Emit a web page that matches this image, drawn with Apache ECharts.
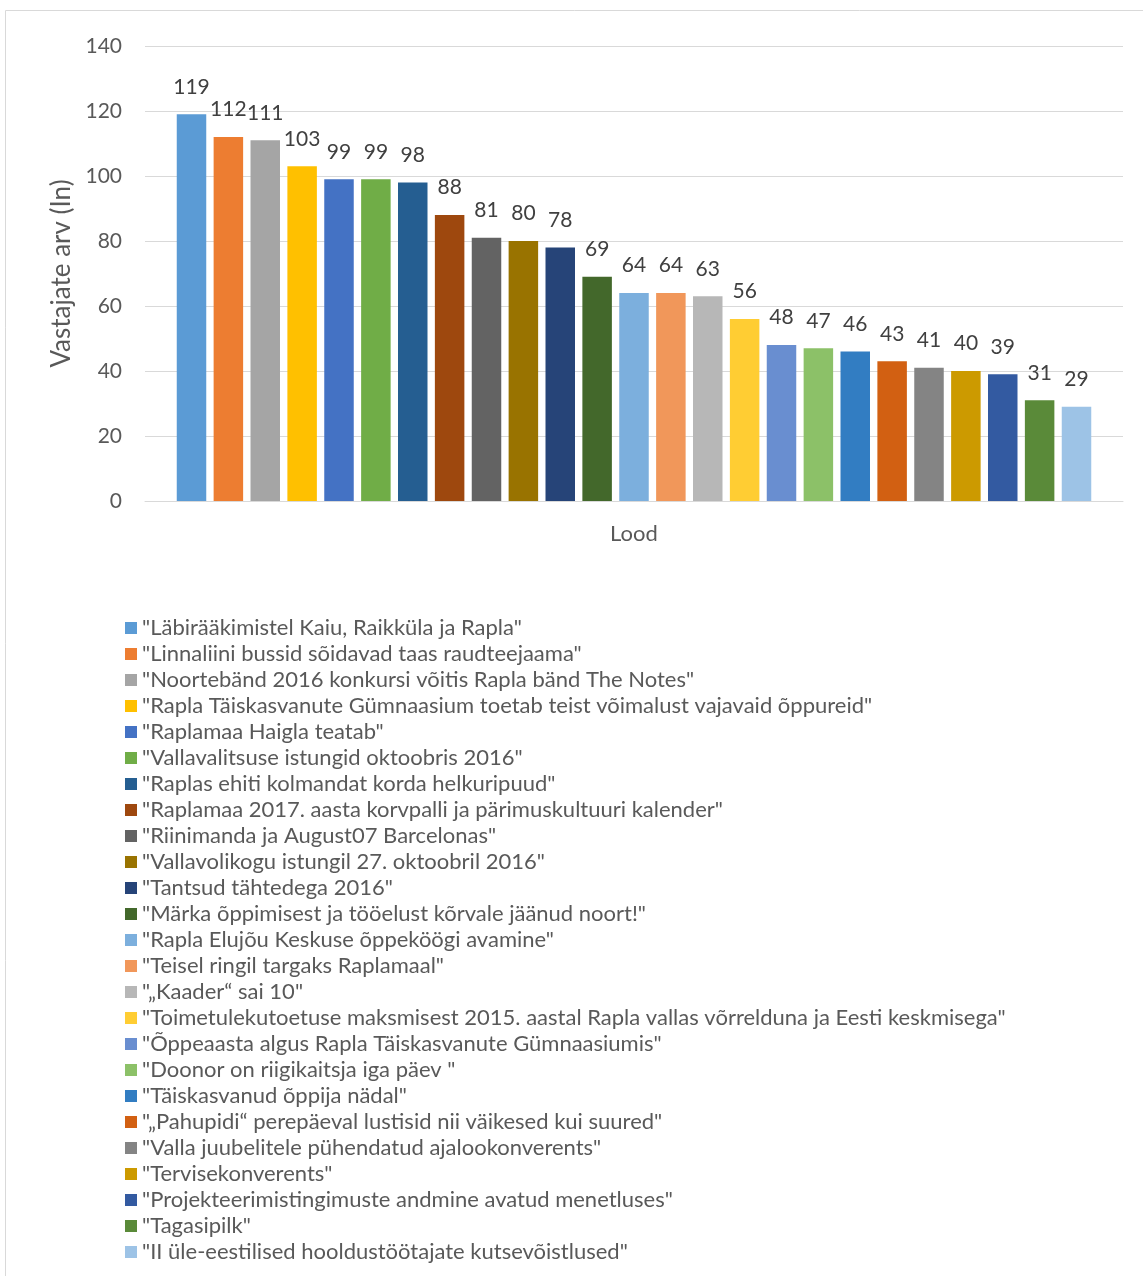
<!DOCTYPE html>
<html>
<head>
<meta charset="utf-8">
<script src="https://cdn.jsdelivr.net/npm/echarts@6/dist/echarts.min.js"></script>
<style>
html,body{margin:0;padding:0;background:#fff;}
#chart{width:1143px;height:1276px;}
</style>
</head>
<body>
<div id="chart"></div>
<script>
const categories = [''];
const seriesNames = [
  '"Läbirääkimistel Kaiu, Raikküla ja Rapla"',
  '"Linnaliini bussid sõidavad taas raudteejaama"',
  '"Noortebänd 2016 konkursi võitis Rapla bänd The Notes"',
  '"Rapla Täiskasvanute Gümnaasium toetab teist võimalust vajavaid õppureid"',
  '"Raplamaa Haigla teatab"',
  '"Vallavalitsuse istungid oktoobris 2016"',
  '"Raplas ehiti kolmandat korda helkuripuud"',
  '"Raplamaa 2017. aasta korvpalli ja pärimuskultuuri kalender"',
  '"Riinimanda ja August07 Barcelonas"',
  '"Vallavolikogu istungil 27. oktoobril 2016"',
  '"Tantsud tähtedega 2016"',
  '"Märka õppimisest ja tööelust kõrvale jäänud noort!"',
  '"Rapla Elujõu Keskuse õppeköögi avamine"',
  '"Teisel ringil targaks Raplamaal"',
  '"„Kaader“ sai 10"',
  '"Toimetulekutoetuse maksmisest 2015. aastal Rapla vallas võrrelduna ja Eesti keskmisega"',
  '"Õppeaasta algus Rapla Täiskasvanute Gümnaasiumis"',
  '"Doonor on riigikaitsja iga päev "',
  '"Täiskasvanud õppija nädal"',
  '"„Pahupidi“ perepäeval lustisid nii väikesed kui suured"',
  '"Valla juubelitele pühendatud ajalookonverents"',
  '"Tervisekonverents"',
  '"Projekteerimistingimuste andmine avatud menetluses"',
  '"Tagasipilk"',
  '"II üle-eestilised hooldustöötajate kutsevõistlused"'
];
const values = [119,112,111,103,99,99,98,88,81,80,78,69,64,64,63,56,48,47,46,43,41,40,39,31,29];
const colors = ['#5B9BD5','#ED7D31','#A5A5A5','#FFC000','#4472C4','#70AD47','#255E91','#9E480E','#636363','#997300','#264478','#43682B','#7CAFDD','#F1975A','#B7B7B7','#FFCD33','#698ED0','#8CC168','#327DC2','#D26012','#848484','#CC9A00','#335AA1','#5A8A39','#9DC3E6'];
const yTicks = {min:0, max:140, interval:20};

const FONT = 'Lato, "Open Sans", sans-serif';
const chart = echarts.init(document.getElementById('chart'), null, {renderer:'canvas'});
const series = seriesNames.map((n,i)=>({
  name:n, type:'bar', data:[values[i]],
  itemStyle:{color:colors[i]},
  barWidth:29.5, barGap:'25%',
  label:{show:true, position:'top', distance:17, color:'#404040', fontSize:21, fontFamily:FONT},
  animation:false
}));
chart.setOption({
  animation:false,
  color:colors,
  graphic:[{type:'rect', shape:{x:5.5,y:10.5,width:1150,height:1300}, style:{fill:null, stroke:'#d9d9d9', lineWidth:1}, silent:true}],
  grid:{left:145, right:20, top:46, bottom:775, containLabel:false},
  xAxis:{type:'category', data:categories, name:'Lood', nameLocation:'middle', nameGap:22,
    nameTextStyle:{color:'#595959', fontSize:22, fontFamily:FONT},
    axisLine:{lineStyle:{color:'#d9d9d9'}}, axisTick:{show:false}, axisLabel:{show:false}},
  yAxis:{type:'value', min:yTicks.min, max:yTicks.max, interval:yTicks.interval,
    name:'Vastajate arv (In)', nameLocation:'middle', nameGap:62, nameRotate:90,
    nameTextStyle:{color:'#595959', fontSize:26, fontFamily:FONT},
    axisLabel:{color:'#595959', fontSize:21, fontFamily:FONT, margin:23},
    axisLine:{show:false}, axisTick:{show:false},
    splitLine:{lineStyle:{color:'#d9d9d9', width:1}}},
  legend:{orient:'vertical', left:125, top:617, height:660, padding:0, itemWidth:12, itemHeight:12, itemGap:4, itemTextGap:7,
    icon:'rect', data:seriesNames,
    textStyle:{color:'#595959', fontSize:22, lineHeight:22, fontFamily:FONT}},
  series:series
});
</script>
</body>
</html>
